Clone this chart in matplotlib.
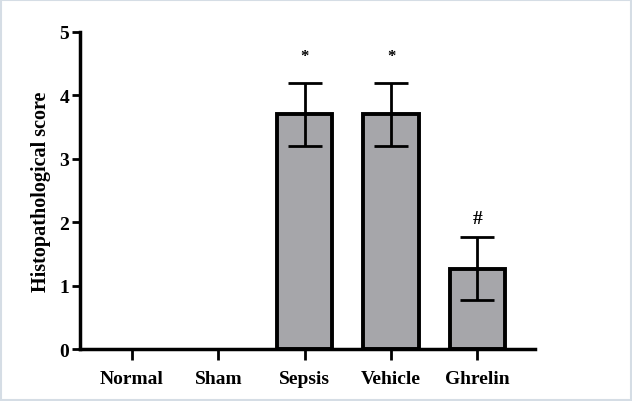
import matplotlib
matplotlib.use("Agg")
import matplotlib.pyplot as plt
from matplotlib.patches import Rectangle

categories = ["Normal", "Sham", "Sepsis", "Vehicle", "Ghrelin"]
means = [0, 0, 3.7, 3.7, 1.27]
errors = [0, 0, 0.49, 0.49, 0.5]
marks = ["", "", "*", "*", "#"]
yticks = [0, 1, 2, 3, 4, 5]

plt.rcParams['font.family'] = ['Liberation Serif', 'DejaVu Serif']
plt.rcParams['font.weight'] = 'bold'

fig = plt.figure(figsize=(6.32, 4.02), dpi=100)
ax = fig.add_axes([0.127, 0.129, 0.72, 0.789])

x = list(range(len(categories)))
ax.bar([xi for xi, m in zip(x, means) if m > 0],
       [m for m in means if m > 0], width=0.64,
       color='#a6a6aa', edgecolor='black', linewidth=2.8, zorder=2)
ax.errorbar([xi for xi, m in zip(x, means) if m > 0],
            [m for m in means if m > 0],
            yerr=[e for e, m in zip(errors, means) if m > 0],
            fmt='none', ecolor='black', elinewidth=2, capsize=12, capthick=2, zorder=3)

for xi, m, e, s in zip(x, means, errors, marks):
    if s:
        yy = m + e + (0.3 if s == "*" else 0.15)
        ax.text(xi, yy, s, ha='center', va='bottom', fontsize=14 if s == "#" else 12,
                fontweight='bold')

ax.set_xlim(-0.6, 4.67)
ax.set_ylim(0, 5)
ax.set_yticks(yticks)
ax.set_xticks(x)
ax.set_xticklabels(categories, fontsize=14, fontweight='bold')
ax.set_yticklabels([str(t) for t in yticks], fontsize=14, fontweight='bold')
ax.set_ylabel("Histopathological score", fontsize=14.5, fontweight='bold', labelpad=6)

for side in ['top', 'right']:
    ax.spines[side].set_visible(False)
for side in ['left', 'bottom']:
    ax.spines[side].set_linewidth(2.5)
ax.tick_params(axis='y', width=2, length=6, pad=2)
ax.tick_params(axis='x', width=2, length=8, pad=7)

fig.patches.append(Rectangle((0.002, 0.002), 0.996, 0.996, transform=fig.transFigure,
                             fill=False, edgecolor='#d5dde5', linewidth=1.5))

fig.savefig("out.png", dpi=100)
